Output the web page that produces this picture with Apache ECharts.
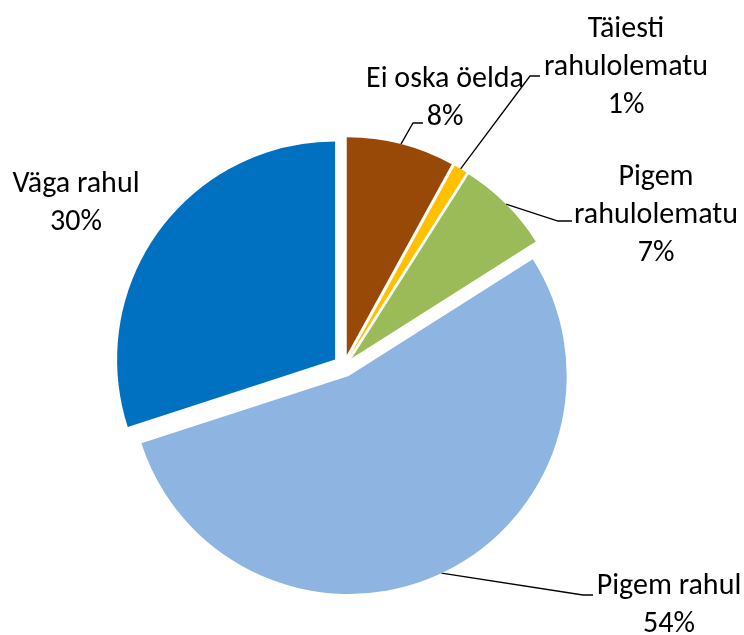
<!DOCTYPE html>
<html>
<head>
<meta charset="utf-8">
<script src="https://cdn.jsdelivr.net/npm/echarts@6/dist/echarts.min.js"></script>
<style>
  html, body { margin: 0; background: #fff; }
  #main { width: 744px; height: 635px; }
</style>
</head>
<body>
<div id="main"></div>
<script>
// slices clockwise from 12 o'clock
const categories = ['Ei oska öelda', 'Täiesti rahulolematu', 'Pigem rahulolematu', 'Pigem rahul', 'Väga rahul'];
const shares = [8, 1, 7, 54, 30];
const labelTexts = ['Ei oska öelda', 'Täiesti\nrahulolematu', 'Pigem\nrahulolematu', 'Pigem rahul', 'Väga rahul'];
const sliceColors = ['#984807', '#FFC000', '#9BBB59', '#8EB4E2', '#0070C0'];

// where each label block sits, and the leader line bend / end
const labelSpots = [
  { x: 445, y: 98,  bend: [413, 123], end: [423, 123] },
  { x: 626, y: 67,  bend: [530, 76],  end: [540, 76] },
  { x: 656, y: 215, bend: [558, 221], end: [572, 221] },
  { x: 669, y: 605, bend: [583, 595], end: [593, 595] },
  { x: 76,  y: 203, bend: null,       end: null }
];

const pieCenter = [344, 366];
const pieRadius = 218;
const explode = 11;

var myChart = echarts.init(document.getElementById('main'));

// every slice gets its own series so it can be pushed out along its mid angle
const total = shares.reduce(function (a, b) { return a + b; }, 0);
let before = 0;
const series = categories.map(function (name, k) {
  const mid = (before + shares[k] / 2) / total * 2 * Math.PI;
  before += shares[k];
  return {
    type: 'pie',
    silent: true,
    center: [pieCenter[0] + explode * Math.sin(mid), pieCenter[1] - explode * Math.cos(mid)],
    radius: pieRadius,
    startAngle: 90,
    clockwise: true,
    avoidLabelOverlap: false,
    emphasis: { disabled: true },
    label: {
      show: true,
      color: '#000',
      fontFamily: 'Calibri, Carlito, Lato, sans-serif',
      fontSize: 30,
      lineHeight: 38,
      formatter: function (p) {
        return labelTexts[p.dataIndex] + '\n' + p.value + '%';
      }
    },
    labelLine: {
      show: true,
      lineStyle: { color: '#000', width: 1.3 }
    },
    labelLayout: function (params) {
      const spot = labelSpots[params.dataIndex];
      const out = { x: spot.x, y: spot.y, align: 'center', verticalAlign: 'middle' };
      if (spot.bend && params.labelLinePoints) {
        out.labelLinePoints = [params.labelLinePoints[0], spot.bend, spot.end];
      }
      return out;
    },
    data: categories.map(function (n, i) {
      if (i !== k) {
        return {
          name: n,
          value: shares[i],
          itemStyle: { opacity: 0 },
          label: { show: false },
          labelLine: { show: false }
        };
      }
      return {
        name: n,
        value: shares[i],
        itemStyle: { color: sliceColors[i] },
        labelLine: { show: labelSpots[i].bend !== null }
      };
    })
  };
});

myChart.setOption({ animation: false, series: series });
</script>
</body>
</html>
